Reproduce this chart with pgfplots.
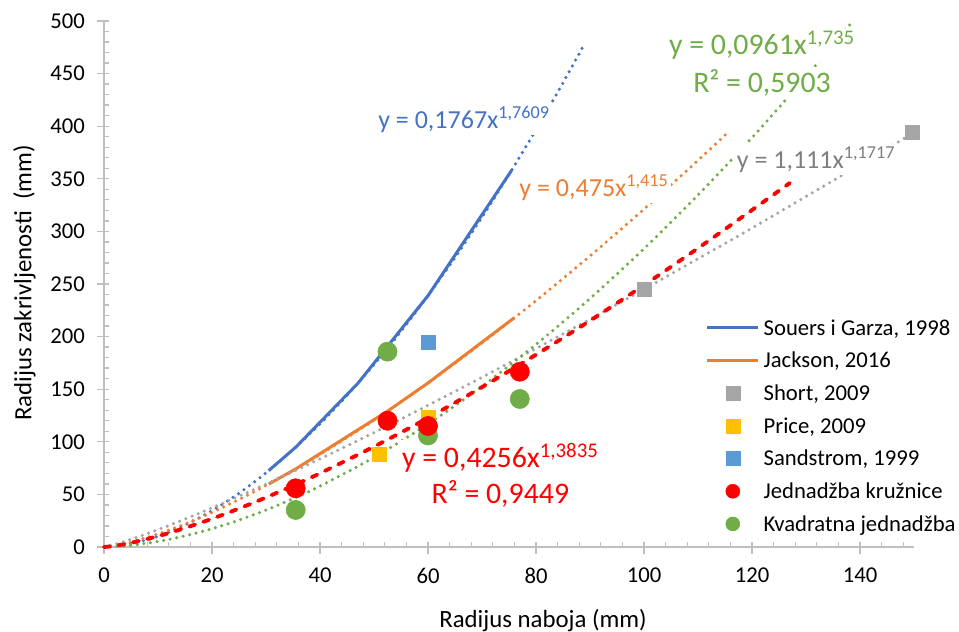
\documentclass[border=0pt]{standalone}
\usepackage{pgfplots}
\pgfplotsset{compat=1.18}
\usepackage{fontspec}
\setmainfont{Carlito}
\definecolor{cBlue}{HTML}{4472C4}
\definecolor{cOrange}{HTML}{ED7D31}
\definecolor{cGray}{HTML}{A5A5A5}
\definecolor{cGrayT}{HTML}{7F7F7F}
\definecolor{cYellow}{HTML}{FFC000}
\definecolor{cLBlue}{HTML}{5B9BD5}
\definecolor{cRed}{HTML}{FF0000}
\definecolor{cGreen}{HTML}{70AD47}
\definecolor{cAxis}{HTML}{BFBFBF}
\pgfplotsset{
  lineleg/.style={legend image code/.code={\draw[##1] (0pt,0pt) -- (38pt,0pt);}},
  markleg/.style={legend image code/.code={\draw[##1] plot coordinates {(19pt,0pt)};}},
  trend/.style={line width=2.6pt, line cap=round, dash pattern=on 0pt off 5pt, smooth, forget plot},
}
\begin{document}
\begin{tikzpicture}
\begin{axis}[
  name=ax,
  scale only axis, width=607.5pt, height=394.5pt,
  xmin=0, xmax=150, ymin=0, ymax=500,
  clip=false,
  axis lines*=left,
  axis line style={draw=cAxis, line width=1pt},
  xtick={0,20,...,140}, ytick={0,50,...,500},
  minor xtick={0,4,...,148}, minor ytick={0,10,...,500},
  tick style={draw=cAxis, line width=1pt},
  tick align=inside,
  major tick length=8.25pt, minor tick length=3.5pt,
  every major x tick/.append style={yshift=-5.25pt},
  every major y tick/.append style={xshift=-5.25pt},
  /pgf/number format/assume math mode=true,
  tick label style={font=\fontsize{17}{20}\selectfont, black},
  xticklabel style={anchor=north, yshift=-12pt},
  yticklabel style={anchor=east, xshift=-10.8pt},
  xlabel={Radijus naboja (mm)},
  ylabel={Radijus zakrivljenosti\ \ (mm)},
  label style={font=\fontsize{18.6}{22}\selectfont},
  xlabel style={at={(axis description cs:0.542,0)}, anchor=base, yshift=-60.5pt},
  ylabel style={at={(axis description cs:-0.0896,0.502)}, anchor=base},
  legend style={at={(axis description cs:0.7432,0.4475)}, anchor=north west,
    draw=none, fill=none, inner sep=0pt, outer sep=0pt, row sep=0pt, column sep=3pt,
    font=\fontsize{17}{20}\selectfont,
    nodes={inner sep=0pt, outer sep=0pt, text height=17.65pt, text depth=6.85pt}},
  legend cell align=left,
]
% legend entries
\addlegendimage{lineleg, draw=cBlue, line width=2.25pt}
\addlegendentry{Souers i Garza, 1998}
\addlegendimage{lineleg, draw=cOrange, line width=2.25pt}
\addlegendentry{Jackson, 2016}
\addlegendimage{markleg, only marks, mark=square*, mark size=5.25pt, color=cGray}
\addlegendentry{Short, 2009}
\addlegendimage{markleg, only marks, mark=square*, mark size=5.25pt, color=cYellow}
\addlegendentry{Price, 2009}
\addlegendimage{markleg, only marks, mark=square*, mark size=5.25pt, color=cLBlue}
\addlegendentry{Sandstrom, 1999}
\addlegendimage{markleg, only marks, mark=*, mark size=5.25pt, color=cRed}
\addlegendentry{Jednadžba kružnice}
\addlegendimage{markleg, only marks, mark=*, mark size=5.25pt, color=cGreen}
\addlegendentry{Kvadratna jednadžba}

% solid series
\addplot[forget plot, draw=cBlue, line width=2.25pt] coordinates {(30.5,72.6) (35.5,94.8) (47,155.5) (60,238.9) (75.5,358.2)};
\addplot[forget plot, draw=cOrange, line width=2.25pt] coordinates {(30.5,59.8) (35.5,74.2) (52.5,129.1) (60,155.9) (76,218)};

% markers
\addplot[forget plot, only marks, mark=square*, mark size=5.25pt, color=cGray] coordinates {(100,245) (149.6,394)};
\addplot[forget plot, only marks, mark=square*, mark size=5.25pt, color=cYellow] coordinates {(51,88.4) (60,123.5)};
\addplot[forget plot, only marks, mark=square*, mark size=5.25pt, color=cLBlue] coordinates {(60,194.2)};
\addplot[forget plot, only marks, mark=*, mark size=7.2pt, color=cGreen] coordinates {(35.5,35.2) (52.5,185.7) (60,106) (77,140.7)};
\addplot[forget plot, only marks, mark=*, mark size=7.2pt, color=cRed] coordinates {(35.5,55.8) (52.5,120) (60,115) (77,166.6)};

% trend lines
\addplot[trend, draw=cBlue] coordinates {(0,0) (2,0.599) (5,3.007) (10,10.19) (15,20.81) (20,34.53) (25,51.15) (30,70.5) (35,92.49) (40,117.0) (45,144.0) (50,173.4) (55,205.0) (60,238.9) (65,275.1) (70,313.5) (75,354.0) (80,396.6) (85,441.3) (88.8,476.6)};
\addplot[trend, draw=cOrange] coordinates {(0,0) (2,1.267) (5,4.63) (10,12.35) (15,21.92) (20,32.93) (25,45.16) (30,58.46) (35,72.68) (40,87.87) (50,120.5) (60,155.9) (70,193.9) (80,234.2) (90,276.7) (100,321.2) (110,367.5) (115.4,393.5)};
\addplot[trend, draw=cGray] coordinates {(0,0) (2,2.503) (5,7.32) (10,16.5) (15,26.53) (20,37.17) (25,48.27) (30,59.76) (35,71.58) (40,83.73) (50,108.7) (60,134.7) (70,161.3) (80,188.7) (90,216.5) (100,245) (110,274.0) (120,303.2) (130,333.2) (140,363.3) (150,394)};
\addplot[trend, draw=cGreen] coordinates {(0,0) (2,0.32) (5,1.569) (10,5.221) (15,10.55) (20,17.37) (25,25.59) (30,35.12) (35,45.87) (40,57.84) (50,85.2) (60,116.9) (70,152.7) (80,192.5) (90,236.2) (100,283.6) (110,334.6) (120,389.1) (130,447.1) (138.7,500)};
\addplot[forget plot, smooth, draw=cRed, line width=2.9pt, line cap=round, dash pattern=on 4.5pt off 6.5pt] coordinates {(0,0) (2,1.11) (5,3.945) (10,10.29) (15,18.04) (20,26.85) (25,36.57) (30,47.07) (35,58.23) (40,70.06) (50,95.42) (60,122.7) (70,152.0) (80,182.8) (90,215.1) (100,248.9) (110,284.0) (120,320.3) (127,346)};

% trend labels
\node[anchor=base, fill=white, inner sep=2pt, text=cBlue, font=\fontsize{19.5}{22}\selectfont] at (axis cs:66.67,398) {y = 0,1767x\textsuperscript{1,7609}};
\node[anchor=base, fill=white, inner sep=2pt, text=cOrange, font=\fontsize{19.5}{22}\selectfont] at (axis cs:90.74,333.1) {y = 0,475x\textsuperscript{1,415}};
\node[anchor=base, fill=white, inner sep=2pt, text=cGrayT, font=\fontsize{19.5}{22}\selectfont] at (axis cs:131.85,360) {y = 1,111x\textsuperscript{1,1717}};
\node[anchor=base, fill=white, inner sep=2pt, text=cGreen, font=\fontsize{22.35}{26}\selectfont] at (axis cs:121.85,467.7) {y = 0,0961x\textsuperscript{1,735}};
\node[anchor=base, fill=white, inner sep=2pt, text=cGreen, font=\fontsize{22.35}{26}\selectfont] at (axis cs:121.85,431.8) {R² = 0,5903};
\node[anchor=base, fill=white, inner sep=2pt, text=cRed, font=\fontsize{22.35}{26}\selectfont] at (axis cs:73.4,76.0) {y = 0,4256x\textsuperscript{1,3835}};
\node[anchor=base, fill=white, inner sep=2pt, text=cRed, font=\fontsize{22.35}{26}\selectfont] at (axis cs:73.4,41.8) {R² = 0,9449};
\end{axis}
\pgfresetboundingbox
\path ([xshift=-78pt,yshift=-63.75pt]ax.south west) rectangle ([xshift=33.75pt,yshift=15.75pt]ax.north east);
\end{tikzpicture}
\end{document}
